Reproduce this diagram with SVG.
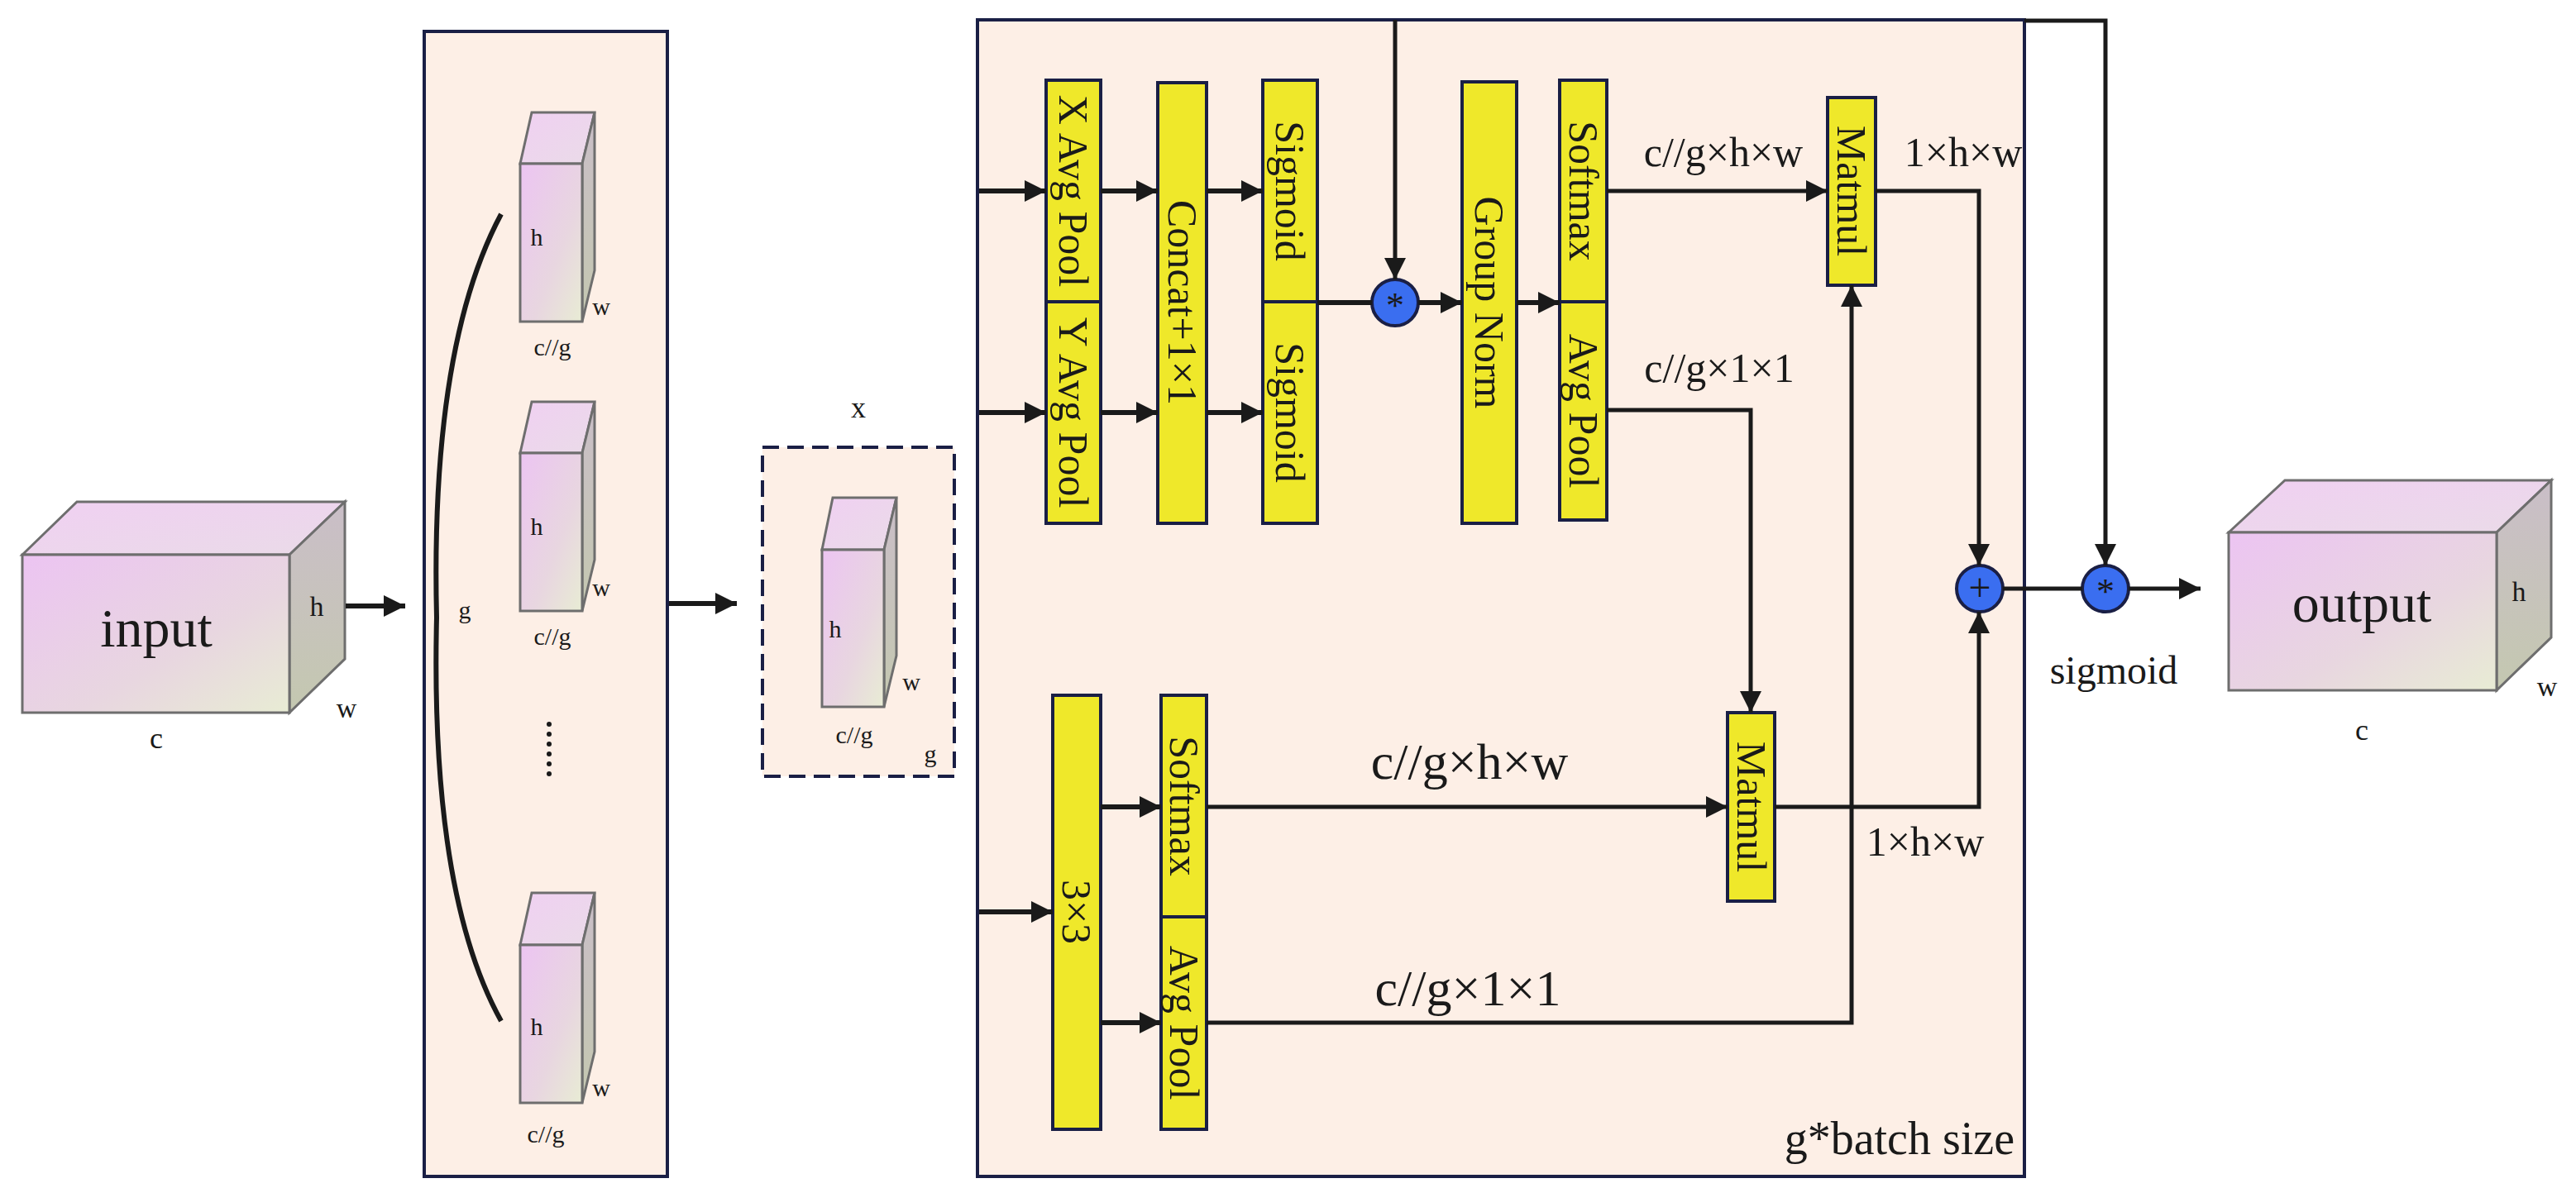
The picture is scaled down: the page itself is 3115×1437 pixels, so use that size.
<svg xmlns="http://www.w3.org/2000/svg" width="3115" height="1437" viewBox="0 0 3115 1437">
<defs>
<linearGradient id="gf" x1="0" y1="0" x2="1" y2="1"><stop offset="0" stop-color="#ecc4f2"/><stop offset="0.6" stop-color="#e8d6e0"/><stop offset="1" stop-color="#e8ecd4"/></linearGradient>
<linearGradient id="gt" x1="0" y1="0" x2="1" y2="1"><stop offset="0" stop-color="#f0d0f2"/><stop offset="1" stop-color="#eadbe8"/></linearGradient>
<linearGradient id="gs" x1="0" y1="0" x2="0" y2="1"><stop offset="0" stop-color="#cabec8"/><stop offset="1" stop-color="#c4c8b0"/></linearGradient>
<marker id="ah" viewBox="0 0 10 10" refX="10" refY="5" markerWidth="6" markerHeight="6" markerUnits="userSpaceOnUse" orient="auto"><path d="M0,0 L10,5 L0,10 z" fill="#1a1a1a"/></marker>
<marker id="a" viewBox="0 0 10 10" refX="10" refY="5" markerWidth="26" markerHeight="26" markerUnits="userSpaceOnUse" orient="auto"><path d="M0,0 L10,5 L0,10 z" fill="#1a1a1a"/></marker>
</defs>
<style>
text{font-family:"Liberation Serif","Times New Roman",serif;fill:#1a1a1a}
.cf{fill:url(#gf);stroke:#6e6e6e;stroke-width:3}
.ct{fill:url(#gt);stroke:#6e6e6e;stroke-width:3}
.cs{fill:url(#gs);stroke:#6e6e6e;stroke-width:3}
.panel{fill:#fdefe6;stroke:#1a1f45;stroke-width:4}
.yb{fill:#efe82a;stroke:#1a1f45;stroke-width:4}
.yt{font-size:50px;text-anchor:middle;dominant-baseline:central}
.ln{fill:none;stroke:#1a1a1a;stroke-width:6}
.lt{fill:none;stroke:#1a1a1a;stroke-width:5}
.op{fill:#3a6ef0;stroke:#1a1f45;stroke-width:4}
.sm{font-size:30px;text-anchor:middle}
.lb{font-size:50px;text-anchor:middle}
</style>
<rect x="0" y="0" width="3115" height="1437" fill="#ffffff"/>

<g id="input">
<polygon class="ct" points="27,671 93,607 417,607 350,671"/>
<polygon class="cs" points="350,671 417,607 417,797 350,862"/>
<rect class="cf" x="27" y="671" width="323" height="191"/>
<text x="189" y="782" font-size="66" text-anchor="middle">input</text>
<text x="383" y="745" font-size="34" text-anchor="middle">h</text>
<text x="419" y="868" font-size="34" text-anchor="middle">w</text>
<text x="189" y="905" font-size="36" text-anchor="middle">c</text>
</g>

<g id="groups">
<rect class="panel" x="513" y="38" width="294" height="1385"/>
<path d="M606,259 Q520,420 528,747 Q520,1080 606,1235" fill="none" stroke="#1a1a1a" stroke-width="6"/>
<text x="562" y="748" class="sm">g</text>
<g>
<polygon class="ct" points="629,198 643,136 719,136 704,198"/>
<polygon class="cs" points="704,198 719,136 719,327 704,389"/>
<rect class="cf" x="629" y="198" width="75" height="191"/>
<text x="649" y="297" class="sm">h</text><text x="727" y="381" class="sm">w</text><text x="668" y="430" class="sm">c//g</text>
</g>
<g>
<polygon class="ct" points="629,548 643,486 719,486 704,548"/>
<polygon class="cs" points="704,548 719,486 719,677 704,739"/>
<rect class="cf" x="629" y="548" width="75" height="191"/>
<text x="649" y="647" class="sm">h</text><text x="727" y="721" class="sm">w</text><text x="668" y="780" class="sm">c//g</text>
</g>
<g>
<polygon class="ct" points="629,1143 643,1080 719,1080 704,1143"/>
<polygon class="cs" points="704,1143 719,1080 719,1272 704,1334"/>
<rect class="cf" x="629" y="1143" width="75" height="191"/>
<text x="649" y="1252" class="sm">h</text><text x="727" y="1326" class="sm">w</text><text x="660" y="1382" class="sm">c//g</text>
</g>
<g fill="#1a1a1a"><circle cx="664" cy="876" r="3"/><circle cx="664" cy="888" r="3"/><circle cx="664" cy="900" r="3"/><circle cx="664" cy="912" r="3"/><circle cx="664" cy="924" r="3"/><circle cx="664" cy="936" r="3"/></g>
</g>

<g id="x">
<rect x="922" y="541" width="232" height="398" fill="#fdefe6" stroke="#1a1f45" stroke-width="4" stroke-dasharray="20,10"/>
<text x="1038" y="505" font-size="36" text-anchor="middle">x</text>
<polygon class="ct" points="994,665 1007,602 1084,602 1069,665"/>
<polygon class="cs" points="1069,665 1084,602 1084,793 1069,855"/>
<rect class="cf" x="994" y="665" width="75" height="190"/>
<text x="1010" y="771" class="sm">h</text><text x="1102" y="835" class="sm">w</text><text x="1033" y="899" class="sm">c//g</text><text x="1125" y="922" class="sm">g</text>
</g>

<g id="main">
<rect class="panel" x="1182" y="24" width="1266" height="1399"/>
<text x="2436" y="1396" font-size="56" text-anchor="end">g*batch size</text>
</g>

<g id="xpool"><rect class="yb" x="1265" y="97" width="66" height="268"/><text class="yt" transform="translate(1298,231) rotate(90)">X Avg Pool</text></g>
<g id="ypool"><rect class="yb" x="1265" y="365" width="66" height="268"/><text class="yt" transform="translate(1298,499) rotate(90)">Y Avg Pool</text></g>
<g id="concat"><rect class="yb" x="1400" y="100" width="59" height="533"/><text class="yt" transform="translate(1430,366) rotate(90)">Concat+1×1</text></g>
<g id="sig1"><rect class="yb" x="1527" y="97" width="66" height="268"/><text class="yt" transform="translate(1560,231) rotate(90)">Sigmoid</text></g>
<g id="sig2"><rect class="yb" x="1527" y="365" width="66" height="268"/><text class="yt" transform="translate(1560,499) rotate(90)">Sigmoid</text></g>
<g id="mul1"><circle class="op" cx="1687" cy="366" r="28"/><text x="1687" y="384" font-size="44" text-anchor="middle">*</text></g>
<g id="gnorm"><rect class="yb" x="1768" y="99" width="66" height="534"/><text class="yt" transform="translate(1801,366) rotate(90)">Group Norm</text></g>
<g id="soft1"><rect class="yb" x="1886" y="97" width="57" height="268"/><text class="yt" transform="translate(1915,231) rotate(90)">Softmax</text></g>
<g id="apool1"><rect class="yb" x="1886" y="365" width="57" height="264"/><text class="yt" transform="translate(1915,497) rotate(90)">Avg Pool</text></g>
<g id="matmul1"><rect class="yb" x="2210" y="118" width="58" height="227"/><text class="yt" transform="translate(2239,231) rotate(90)">Matmul</text></g>
<g id="conv3"><rect class="yb" x="1273" y="841" width="58" height="525"/><text class="yt" transform="translate(1302,1103) rotate(90)">3×3</text></g>
<g id="soft2"><rect class="yb" x="1404" y="841" width="55" height="268"/><text class="yt" transform="translate(1432,975) rotate(90)">Softmax</text></g>
<g id="apool2"><rect class="yb" x="1404" y="1109" width="55" height="257"/><text class="yt" transform="translate(1432,1237) rotate(90)">Avg Pool</text></g>
<g id="matmul2"><rect class="yb" x="2089" y="862" width="57" height="228"/><text class="yt" transform="translate(2118,976) rotate(90)">Matmul</text></g>
<g id="plus"><circle class="op" cx="2394" cy="712" r="28"/><text x="2394" y="727" font-size="48" text-anchor="middle">+</text></g>
<g id="mul2"><circle class="op" cx="2546" cy="712" r="28"/><text x="2546" y="730" font-size="44" text-anchor="middle">*</text></g>

<g id="output">
<polygon class="ct" points="2695,644 2763,581 3085,581 3019,644"/>
<polygon class="cs" points="3019,644 3085,581 3085,771 3019,835"/>
<rect class="cf" x="2695" y="644" width="324" height="191"/>
<text x="2856" y="752" font-size="66" text-anchor="middle">output</text>
<text x="3046" y="727" font-size="34" text-anchor="middle">h</text>
<text x="3080" y="842" font-size="34" text-anchor="middle">w</text>
<text x="2856" y="895" font-size="36" text-anchor="middle">c</text>
<text x="2556" y="827" font-size="48" text-anchor="middle">sigmoid</text>
</g>

<g id="labels">
<text x="2084" y="201" class="lb">c//g×h×w</text>
<text x="2374" y="201" class="lb">1×h×w</text>
<text x="2079" y="462" class="lb">c//g×1×1</text>
<text x="1777" y="942" font-size="62" text-anchor="middle">c//g×h×w</text>
<text x="1775" y="1216" font-size="62" text-anchor="middle">c//g×1×1</text>
<text x="2328" y="1035" class="lb">1×h×w</text>
</g>

<g id="connectors">
<line class="ln" x1="418" y1="733" x2="490" y2="733" marker-end="url(#a)"/>
<line class="ln" x1="809" y1="730" x2="891" y2="730" marker-end="url(#a)"/>
<line class="ln" x1="1184" y1="231" x2="1265" y2="231" marker-end="url(#a)"/>
<line class="ln" x1="1184" y1="499" x2="1265" y2="499" marker-end="url(#a)"/>
<line class="ln" x1="1331" y1="231" x2="1400" y2="231" marker-end="url(#a)"/>
<line class="ln" x1="1331" y1="499" x2="1400" y2="499" marker-end="url(#a)"/>
<line class="ln" x1="1459" y1="231" x2="1527" y2="231" marker-end="url(#a)"/>
<line class="ln" x1="1459" y1="499" x2="1527" y2="499" marker-end="url(#a)"/>
<line class="ln" x1="1593" y1="366" x2="1659" y2="366"/>
<line class="lt" x1="1687" y1="24" x2="1687" y2="338" marker-end="url(#a)"/>
<line class="ln" x1="1715" y1="366" x2="1768" y2="366" marker-end="url(#a)"/>
<line class="ln" x1="1834" y1="366" x2="1886" y2="366" marker-end="url(#a)"/>
<line class="lt" x1="1943" y1="231" x2="2210" y2="231" marker-end="url(#a)"/>
<polyline class="lt" points="2268,231 2393,231 2393,684" marker-end="url(#a)"/>
<polyline class="lt" points="1943,496 2117,496 2117,862" marker-end="url(#a)"/>
<line class="ln" x1="1184" y1="1103" x2="1273" y2="1103" marker-end="url(#a)"/>
<line class="ln" x1="1331" y1="976" x2="1404" y2="976" marker-end="url(#a)"/>
<line class="ln" x1="1331" y1="1237" x2="1404" y2="1237" marker-end="url(#a)"/>
<line class="lt" x1="1459" y1="976" x2="2089" y2="976" marker-end="url(#a)"/>
<polyline class="lt" points="2146,976 2393,976 2393,740" marker-end="url(#a)"/>
<polyline class="lt" points="1459,1237 2239,1237 2239,345" marker-end="url(#a)"/>
<polyline class="lt" points="2448,25 2546,25 2546,684" marker-end="url(#a)"/>
<line class="lt" x1="2422" y1="712" x2="2518" y2="712"/>
<line class="lt" x1="2574" y1="712" x2="2661" y2="712" marker-end="url(#a)"/>
</g>
</svg>
